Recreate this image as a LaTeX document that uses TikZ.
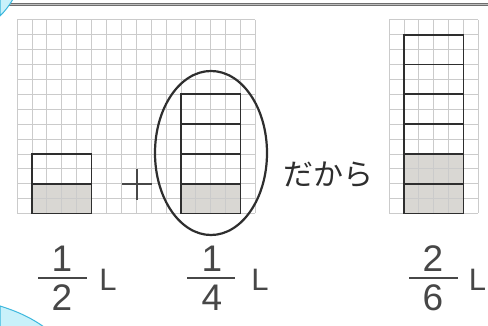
\documentclass[tikz,border=0pt]{standalone}
\usepackage{fontspec}
\setmainfont{Liberation Sans}
\newfontfamily\jpfont{Noto Sans CJK JP}
\definecolor{gridgray}{HTML}{CBCBCB}
\definecolor{boxdark}{HTML}{2E2E2E}
\definecolor{shadegray}{HTML}{D9D7D3}
\definecolor{textgray}{HTML}{474747}
\definecolor{rulegray}{HTML}{6E6E6E}
\definecolor{cornerfill}{HTML}{C9F1FA}
\definecolor{cornerline}{HTML}{3BB7DD}
\tikzset{
  gridline/.style={draw=gridgray, line width=0.7pt},
  boxline/.style={draw=boxdark, line width=1.8pt, line join=miter},
  shaded/.style={fill=shadegray},
  numtext/.style={inner sep=0pt, text=textgray, font=\fontsize{37}{37}\selectfont},
  unittext/.style={inner sep=0pt, text=textgray, font=\fontsize{31}{31}\selectfont},
  fracbar/.style={draw=textgray, line width=1.4pt},
  corner/.style={fill=cornerfill, draw=cornerline, line width=1pt}
}
\begin{document}
\begin{tikzpicture}[x=1pt,y=-1pt]
\useasboundingbox (0,0) rectangle (488,326);
\fill[white] (0,0) rectangle (488,326);
\def\cs{14.9}
% top rule
\draw[rulegray, line width=3.2pt] (0,4.5) -- (488,4.5);
\draw[white!55!rulegray, line width=0.8pt] (0,4.5) -- (488,4.5);
% shaded parts
\fill[shaded] ({17+\cs},{213.5-2*\cs}) rectangle ({17+5*\cs},213.5);
\fill[shaded] ({17+11*\cs},{213.5-2*\cs}) rectangle ({17+15*\cs},213.5);
\fill[shaded] ({389+\cs},{213.5-4*\cs}) rectangle ({389+5*\cs},213.5);
% grid 1
\foreach \i in {0,...,16} \draw[gridline] ({17+\i*\cs},{213.5-13*\cs}) -- ({17+\i*\cs},213.5);
\foreach \j in {0,...,13} \draw[gridline] (17,{213.5-\j*\cs}) -- ({17+16*\cs},{213.5-\j*\cs});
% grid 2
\foreach \i in {0,...,6} \draw[gridline] ({389+\i*\cs},{213.5-13*\cs}) -- ({389+\i*\cs},213.5);
\foreach \j in {0,...,13} \draw[gridline] (389,{213.5-\j*\cs}) -- ({389+6*\cs},{213.5-\j*\cs});
% left box (1/2)
\draw[boxline] ({17+\cs},{213.5-4*\cs}) rectangle ({17+5*\cs},213.5);
\draw[boxline] ({17+\cs},{213.5-2*\cs}) -- ({17+5*\cs},{213.5-2*\cs});
% middle box (1/4)
\draw[boxline] ({17+11*\cs},{213.5-8*\cs}) rectangle ({17+15*\cs},213.5);
\foreach \k in {2,4,6} \draw[boxline] ({17+11*\cs},{213.5-\k*\cs}) -- ({17+15*\cs},{213.5-\k*\cs});
% right box (2/6)
\draw[boxline] ({389+\cs},{213.5-12*\cs}) rectangle ({389+5*\cs},213.5);
\foreach \k in {2,4,6,8,10} \draw[boxline] ({389+\cs},{213.5-\k*\cs}) -- ({389+5*\cs},{213.5-\k*\cs});
% plus sign
\draw[textgray, line width=1.5pt] (122,184) -- (152,184);
\draw[textgray, line width=1.5pt] (137,169) -- (137,200);
% ellipse
\draw[boxdark, line width=2.2pt] (211,153) ellipse [x radius=56, y radius=82];
% text
\node[inner sep=0pt, text=boxdark, font=\jpfont\fontsize{30}{30}\selectfont] (dakara) at (328,175) {だから};
% fraction 1/2
\node[numtext] (n1) at (62,259) {1};
\draw[fracbar] (38,278) -- (87,278);
\node[numtext] (d1) at (62,298) {2};
\node[unittext] (u1) at (108,280) {L};
% fraction 1/4
\node[numtext] (n2) at (212,259) {1};
\draw[fracbar] (187,278) -- (235,278);
\node[numtext] (d2) at (212,298) {4};
\node[unittext] (u2) at (260,280) {L};
% fraction 2/6
\node[numtext] (n3) at (433,259) {2};
\draw[fracbar] (409,278) -- (458,278);
\node[numtext] (d3) at (433,298) {6};
\node[unittext] (u3) at (477.5,280) {L};
% blue corners
\draw[corner] (0,-1) -- (13,-1) .. controls (9,6) and (5,11) .. (0,16) -- cycle;
\draw[corner] (0,306) .. controls (16,311) and (30,317) .. (44,327) -- (0,327) -- cycle;
\end{tikzpicture}
\end{document}
